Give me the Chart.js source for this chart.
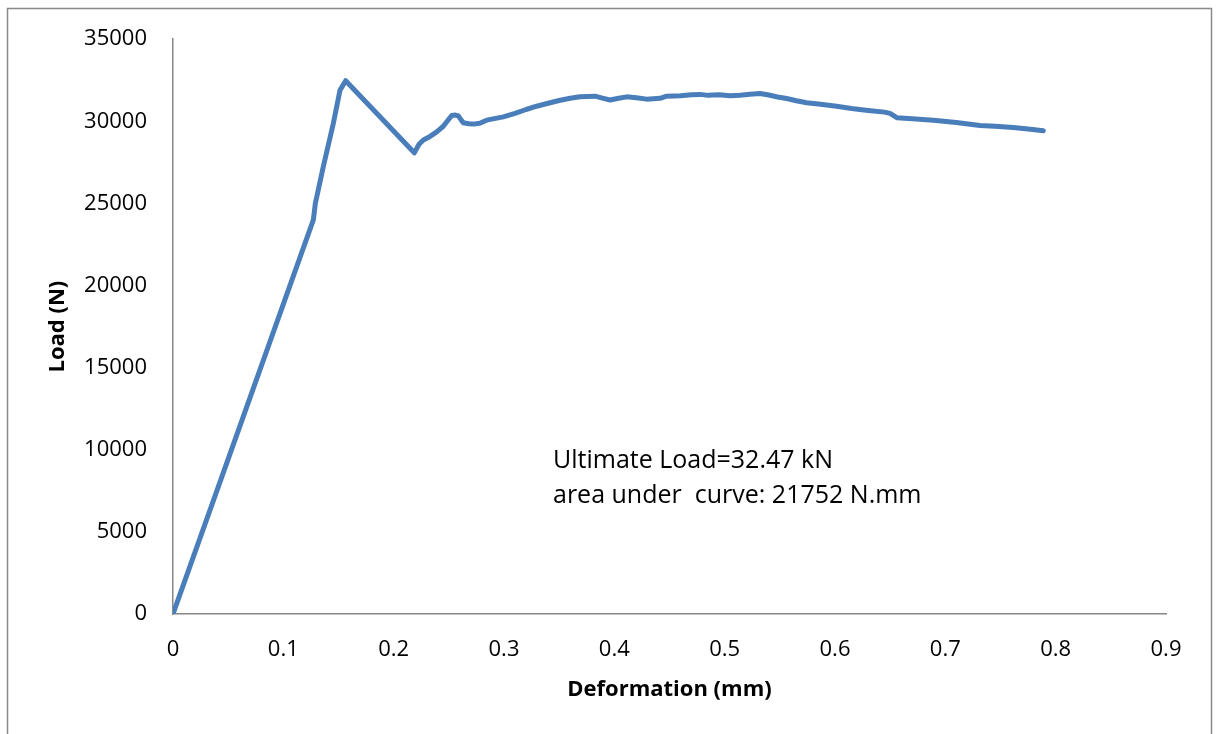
<!DOCTYPE html>
<html>
<head>
<meta charset="utf-8">
<script src="https://cdn.jsdelivr.net/npm/chart.js@4.4.0/dist/chart.umd.min.js"></script>
<style>
  html, body { margin: 0; padding: 0; background: #fff; }
  #wrap { position: relative; width: 1219px; height: 734px; }
</style>
</head>
<body>
<div id="wrap"><canvas id="c" width="1219" height="734"></canvas></div>
<script>
const deformation = [0, 0.1272, 0.1290, 0.1362, 0.1453, 0.1514, 0.1565, 0.2187, 0.2230, 0.2269, 0.2330, 0.2390, 0.2450, 0.2490, 0.2526, 0.2560, 0.2586, 0.2610, 0.2631, 0.2680, 0.2722, 0.2780, 0.2843, 0.2900, 0.2994, 0.3100, 0.3200, 0.3296, 0.3400, 0.3500, 0.3600, 0.3689, 0.3825, 0.3900, 0.3961, 0.4040, 0.4112, 0.4200, 0.4293, 0.4414, 0.4475, 0.4600, 0.4700, 0.4777, 0.4850, 0.4950, 0.5050, 0.5139, 0.5230, 0.5320, 0.5400, 0.5480, 0.5562, 0.5650, 0.5743, 0.5850, 0.6015, 0.6150, 0.6300, 0.6450, 0.6499, 0.6560, 0.6700, 0.6891, 0.7100, 0.7314, 0.7450, 0.7616, 0.7750, 0.7888];
const load = [0, 24000, 25000, 27230, 29870, 31900, 32470, 28080, 28600, 28860, 29080, 29360, 29700, 30050, 30350, 30380, 30330, 30100, 29910, 29850, 29830, 29880, 30070, 30150, 30270, 30480, 30720, 30920, 31100, 31270, 31400, 31490, 31530, 31400, 31300, 31400, 31490, 31430, 31350, 31400, 31530, 31560, 31620, 31640, 31580, 31620, 31560, 31590, 31650, 31690, 31600, 31480, 31390, 31250, 31130, 31050, 30920, 30780, 30660, 30560, 30480, 30220, 30160, 30070, 29930, 29750, 29700, 29620, 29530, 29430];
const xTicks = [0, 0.1, 0.2, 0.3, 0.4, 0.5, 0.6, 0.7, 0.8, 0.9];
const yTicks = [0, 5000, 10000, 15000, 20000, 25000, 30000, 35000];
const annotationLines = ["Ultimate Load=32.47 kN", "area under  curve: 21752 N.mm"];
const xTitle = "Deformation (mm)";
const yTitle = "Load (N)";

const FONT = "'Open Sans', 'Liberation Sans', sans-serif";
const points = deformation.map((d, i) => ({ x: d, y: load[i] }));

const framePlugin = {
  id: 'frame',
  beforeDraw(chart) {
    const ctx = chart.ctx;
    ctx.save();
    ctx.fillStyle = '#fff';
    ctx.fillRect(0, 0, chart.width, chart.height);
    ctx.strokeStyle = '#898989';
    ctx.lineWidth = 1.5;
    ctx.strokeRect(7.5, 8.5, 1204, 740);
    ctx.restore();
  }
};

const notePlugin = {
  id: 'note',
  afterDatasetsDraw(chart) {
    const ctx = chart.ctx;
    const xs = chart.scales.x, ys = chart.scales.y;
    ctx.save();
    ctx.fillStyle = '#000';
    ctx.font = "25px " + FONT;
    ctx.textBaseline = 'alphabetic';
    ctx.textAlign = 'left';
    const x0 = xs.getPixelForValue(0.3444);
    ctx.fillText(annotationLines[0], x0, ys.getPixelForValue(8910));
    ctx.fillText(annotationLines[1], x0, ys.getPixelForValue(6781));
    ctx.restore();
  }
};

new Chart(document.getElementById('c'), {
  type: 'line',
  data: {
    datasets: [{
      data: points,
      borderColor: '#4a7ebb',
      borderWidth: 5,
      pointRadius: 0,
      tension: 0,
      fill: false,
      borderCapStyle: 'round',
      borderJoinStyle: 'round'
    }]
  },
  options: {
    responsive: false,
    animation: false,
    layout: { padding: { left: 0, top: 39, right: 53, bottom: 0 } },
    plugins: { legend: { display: false }, tooltip: { enabled: false } },
    scales: {
      x: {
        type: 'linear',
        min: 0, max: 0.9,
        afterBuildTicks(s) { s.ticks = xTicks.map(v => ({ value: v })); },
        afterFit(s) { s.height = 120; },
        grid: { display: false, drawTicks: false },
        border: { display: true, color: '#868686', width: 1.5 },
        ticks: {
          padding: 23,
          color: '#000',
          font: { family: FONT, size: 22 },
          callback: v => String(+v.toFixed(1))
        },
        title: {
          display: true, text: xTitle, color: '#000',
          font: { family: FONT, size: 22, weight: 'bold' },
          padding: 31
        }
      },
      y: {
        min: 0, max: 35000,
        afterBuildTicks(s) { s.ticks = yTicks.map(v => ({ value: v })); },
        afterFit(s) { s.width = 173; },
        grid: { display: false, drawTicks: false },
        border: { display: true, color: '#868686', width: 1.5 },
        ticks: {
          padding: 26,
          color: '#000',
          font: { family: FONT, size: 22 },
          callback: v => String(v)
        },
        title: {
          display: true, text: yTitle, color: '#000',
          font: { family: FONT, size: 22, weight: 'bold' },
          padding: 45
        }
      }
    }
  },
  plugins: [framePlugin, notePlugin]
});
</script>
</body>
</html>
